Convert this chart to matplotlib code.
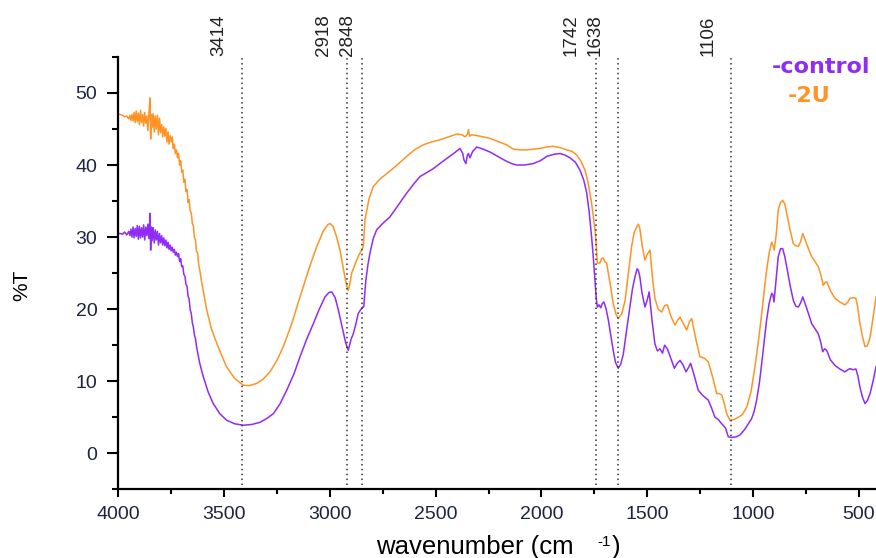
import numpy as np
import matplotlib.pyplot as plt
from matplotlib.ticker import MultipleLocator

#########################
#
# FTIR spectra
#
#########################

# wavenumber (cm-1) and %T for the control sample
wn_ctrl = [4000, 3990, 3980, 3970, 3960, 3950, 3945, 3940, 3935, 3930, 3925, 3920,
           3915, 3910, 3905, 3900, 3895, 3890, 3885, 3880, 3875, 3870, 3865, 3860,
           3855, 3850, 3847, 3843, 3840, 3835, 3830, 3825, 3820, 3815, 3810, 3805,
           3800, 3795, 3790, 3785, 3780, 3775, 3770, 3765, 3760, 3755, 3750, 3745,
           3740, 3735, 3730, 3725, 3720, 3715, 3710, 3705, 3700, 3695, 3690, 3685,
           3680, 3675, 3670, 3665, 3660, 3655, 3650, 3645, 3640, 3635, 3630, 3615,
           3598, 3575, 3551, 3520, 3488, 3450, 3409, 3370, 3330,
           3300, 3267, 3235, 3204, 3170, 3141, 3110, 3078, 3050, 3023, 3005, 2991,
           2975, 2960, 2940, 2925, 2913, 2900, 2889, 2875, 2866, 2855, 2845, 2840,
           2830, 2820, 2811, 2795, 2779, 2750, 2716, 2680, 2637, 2600, 2574, 2540,
           2511, 2480, 2448, 2415, 2385, 2372, 2366, 2357, 2350, 2345, 2338, 2325,
           2306, 2275, 2243, 2200, 2164, 2140, 2117, 2080, 2039, 2005, 1975, 1940,
           1912, 1890, 1865, 1840, 1818, 1800, 1786, 1775, 1763, 1755, 1747, 1741,
           1736, 1728, 1720, 1712, 1705, 1695, 1684, 1672, 1661, 1650, 1637, 1625,
           1613, 1600, 1582, 1570, 1558, 1548, 1542, 1535, 1525, 1511, 1500, 1491,
           1478, 1464, 1452, 1440, 1428, 1418, 1405, 1390, 1372, 1358, 1345, 1330,
           1317, 1305, 1295, 1280, 1259, 1240, 1225, 1212, 1195, 1180, 1165, 1148,
           1130, 1117, 1100, 1078, 1060, 1040, 1020, 1007, 995, 983, 970, 959,
           948, 936, 924, 912, 906, 901, 893, 881, 870, 860, 850, 841,
           825, 810, 798, 786, 775, 765, 745, 723, 705, 692, 680, 671,
           662, 652, 635, 613, 590, 566, 552, 542, 528, 514, 505, 495,
           483, 471, 460, 447, 433, 419]
t_ctrl = [30.5, 30.5, 30.4, 30.7, 30.3, 30.8, 30.2, 31.1, 30.0, 31.4, 29.9, 31.2,
          30.1, 31.6, 29.7, 31.5, 29.9, 31.3, 30.0, 31.7, 29.6, 31.4, 30.2, 31.8,
          29.8, 33.3, 28.2, 31.4, 29.5, 31.3, 29.2, 31.0, 29.6, 30.8, 28.9, 30.5,
          29.2, 30.2, 28.9, 29.9, 28.8, 29.6, 28.5, 29.3, 28.3, 28.9, 28.1, 28.6,
          27.9, 28.3, 27.5, 27.9, 27.3, 27.7, 26.6, 27.0, 25.9, 26.0, 24.8, 24.6,
          23.4, 23.2, 21.8, 21.4, 19.9, 19.4, 18.1, 17.5, 16.4, 15.9, 14.8, 12.5,
          10.6, 8.5, 6.9, 5.5, 4.6, 4.1, 3.9, 4.0, 4.3,
          4.8, 5.5, 6.9, 8.75, 11.0, 13.4, 15.8, 18.0, 20.0, 21.7, 22.3, 22.4,
          21.6, 19.9, 17.3, 15.3, 14.3, 15.8, 16.6, 18.2, 19.4, 19.9, 20.3, 20.3,
          24.0, 26.2, 27.7, 29.8, 31.0, 31.9, 32.8, 34.3, 36.1, 37.5, 38.4, 39.0,
          39.5, 40.2, 40.9, 41.6, 42.3, 41.6, 40.7, 40.2, 41.4, 41.6, 41.0, 41.9,
          42.5, 42.2, 41.8, 41.1, 40.5, 40.2, 40.0, 40.0, 40.2, 40.6, 41.2, 41.5,
          41.6, 41.4, 41.0, 40.4, 39.3, 37.9, 36.1, 33.6, 30.0, 27.2, 24.0, 21.5,
          20.3, 20.6, 20.2, 20.8, 21.0, 20.1, 18.5, 16.3, 14.3, 12.6, 11.8, 12.4,
          13.8, 16.6, 20.3, 22.8, 24.5, 25.6, 25.4, 24.5, 22.3, 20.3, 21.3, 22.4,
          18.6, 15.2, 14.2, 14.5, 13.9, 15.0, 14.5, 13.3, 11.8, 12.5, 12.9, 12.2,
          11.3, 11.9, 12.5, 11.0, 8.75, 8.1, 7.7, 7.4, 6.2, 5.0, 4.7, 4.1,
          3.5, 2.3, 2.2, 2.3, 2.6, 3.3, 4.2, 4.8, 5.8, 7.4, 9.8, 12.5,
          15.4, 18.5, 20.8, 22.2, 22.0, 21.0, 23.5, 27.3, 28.4, 28.4, 27.3, 25.9,
          23.3, 21.25, 20.4, 20.3, 20.9, 21.7, 20.0, 18.0, 17.2, 16.6, 15.4, 14.1,
          14.5, 14.3, 13.0, 12.2, 11.7, 11.3, 11.6, 11.75, 11.6, 11.7, 10.8, 9.2,
          7.8, 6.9, 7.3, 8.3, 10.0, 12.0]

# wavenumber (cm-1) and %T for the 2U sample
wn_2u = [4000, 3990, 3980, 3970, 3960, 3950, 3945, 3940, 3935, 3930, 3925, 3920,
         3915, 3910, 3905, 3900, 3895, 3890, 3885, 3880, 3875, 3870, 3865, 3860,
         3855, 3850, 3847, 3843, 3840, 3835, 3830, 3825, 3820, 3815, 3810, 3805,
         3800, 3795, 3790, 3785, 3780, 3775, 3770, 3765, 3760, 3755, 3750, 3745,
         3740, 3735, 3730, 3725, 3720, 3715, 3710, 3705, 3700, 3695, 3690, 3685,
         3680, 3675, 3670, 3665, 3660, 3655, 3650, 3645, 3640, 3635, 3630, 3625,
         3620, 3614, 3605, 3598, 3582, 3560, 3535, 3510, 3488, 3450, 3409, 3380,
         3346, 3315, 3283, 3250, 3220, 3180, 3141, 3100, 3062, 3030, 3010, 3000,
         2985, 2970, 2952, 2935, 2920, 2913, 2905, 2897, 2880, 2865, 2850, 2842,
         2834, 2815, 2795, 2765, 2732, 2690, 2637, 2600, 2559, 2520, 2480, 2440,
         2400, 2375, 2361, 2350, 2345, 2339, 2329, 2290, 2243, 2200, 2164, 2133,
         2100, 2070, 2040, 2007, 1975, 1944, 1910, 1881, 1855, 1834, 1815, 1794,
         1778, 1763, 1755, 1747, 1741, 1736, 1724, 1716, 1708, 1700, 1692, 1684,
         1672, 1661, 1648, 1637, 1620, 1605, 1590, 1574, 1562, 1550, 1542, 1535,
         1524, 1511, 1500, 1487, 1476, 1464, 1448, 1432, 1418, 1405, 1388, 1369,
         1356, 1345, 1330, 1314, 1300, 1290, 1270, 1251, 1230, 1212, 1190, 1172,
         1160, 1148, 1135, 1125, 1109, 1090, 1070, 1050, 1030, 1010, 991, 975,
         959, 946, 936, 924, 912, 906, 900, 890, 881, 870, 860, 850,
         841, 825, 810, 798, 786, 775, 765, 745, 723, 705, 692, 680,
         668, 660, 652, 635, 613, 590, 566, 552, 542, 528, 514, 505,
         495, 483, 471, 460, 447, 433, 419]
t_2u = [47.1, 47.0, 46.9, 46.7, 46.8, 46.4, 46.9, 46.2, 47.0, 46.1, 47.3, 45.9,
        47.5, 46.0, 47.2, 45.6, 47.6, 45.9, 47.0, 45.4, 47.3, 45.8, 46.8, 44.8,
        47.2, 49.3, 43.6, 47.0, 45.2, 47.1, 44.6, 46.8, 45.0, 46.9, 44.2, 46.5,
        44.5, 45.6, 43.9, 45.3, 44.0, 45.1, 43.2, 44.6, 42.9, 44.1, 43.2, 43.9,
        42.3, 42.9, 41.6, 42.1, 41.0, 41.6, 40.0, 40.6, 39.0, 39.3, 37.6, 38.0,
        36.3, 36.6, 34.8, 35.2, 33.6, 33.4, 31.9, 31.6, 29.9, 29.6, 28.0, 27.8,
        26.2, 25.3, 23.6, 22.5, 19.9, 17.3, 15.3, 13.5, 12.0, 10.4, 9.44, 9.4,
        9.7, 10.3, 11.3, 12.9, 14.8, 18.0, 21.7, 25.5, 28.7, 30.9, 31.7, 31.9,
        31.5, 30.2, 28.2, 25.4, 23.2, 22.6, 23.6, 25.0, 26.3, 27.4, 28.2, 28.7,
        32.4, 35.3, 37.0, 38.0, 38.8, 39.8, 41.2, 42.1, 42.8, 43.2, 43.5, 43.9,
        44.3, 44.2, 43.9, 44.3, 44.9, 44.0, 44.2, 44.0, 43.7, 43.2, 42.8, 42.2,
        42.1, 42.1, 42.2, 42.3, 42.5, 42.6, 42.4, 42.1, 41.9, 41.4, 40.6, 39.3,
        37.3, 34.7, 32.8, 31.0, 29.0, 26.4, 26.4, 27.0, 27.1, 26.6, 26.4, 25.0,
        22.9, 20.8, 19.3, 18.7, 19.4, 21.2, 24.8, 28.7, 30.6, 31.4, 31.8, 31.2,
        28.8, 26.8, 27.6, 28.2, 24.5, 21.5, 20.0, 19.6, 20.5, 20.6, 19.0, 17.8,
        18.5, 18.9, 18.0, 17.1, 18.3, 18.7, 15.8, 13.4, 13.2, 12.7, 10.5, 8.3,
        8.3, 8.1, 6.8, 5.5, 4.6, 4.7, 5.0, 5.4, 6.4, 8.5, 12.0, 15.5,
        19.4, 22.9, 25.4, 27.8, 29.3, 28.9, 28.2, 30.5, 33.8, 34.8, 35.1, 34.6,
        33.3, 31.0, 29.1, 28.8, 28.7, 29.4, 30.5, 28.9, 27.3, 26.5, 25.9, 24.8,
        23.3, 23.7, 23.8, 22.6, 21.5, 21.0, 20.6, 21.0, 21.5, 21.6, 21.5, 20.2,
        18.0, 16.2, 14.8, 14.9, 16.1, 18.8, 21.7]

# marked band positions and the sideways shift (px) of their labels
peaks = [3414, 2918, 2848, 1742, 1638, 1106]
label_shift = [-23, -24, -15, -25, -23, -23]

x_ticks = [4000, 3500, 3000, 2500, 2000, 1500, 1000, 500]
y_ticks = [0, 10, 20, 30, 40, 50]

purple = '#8f2cf5'
orange = '#ff9326'

#########################
#
# Draw the figure
#
#########################

plt.rcParams['font.family'] = ['Liberation Sans', 'DejaVu Sans']

fig = plt.figure(figsize=(8.76, 5.58), dpi=100)
ax = fig.add_axes([0.135, 0.123, 0.865, 0.775])

ax.plot(wn_2u, t_2u, color=orange, lw=1.1)
ax.plot(wn_ctrl, t_ctrl, color=purple, lw=1.1)

# dotted marker lines with rotated labels above the frame
for p, dx in zip(peaks, label_shift):
    ax.axvline(p, ymin=0.01, ymax=1.0, color='#333333', ls=(0, (1, 2.2)), lw=1.1)
    ax.annotate(str(p), xy=(p, 1.0), xycoords=('data', 'axes fraction'),
                xytext=(dx * 0.72, 1), textcoords='offset points',
                rotation=90, ha='center', va='bottom', fontsize=13.5,
                color='#222222')

ax.set_xlim(4000, 419)
ax.set_ylim(-5, 55)
ax.set_xticks(x_ticks)
ax.set_yticks(y_ticks)
ax.xaxis.set_minor_locator(MultipleLocator(250))
ax.yaxis.set_minor_locator(MultipleLocator(5))

for side in ['top', 'right']:
    ax.spines[side].set_visible(False)
for side in ['left', 'bottom']:
    ax.spines[side].set_linewidth(1.6)

ax.tick_params(axis='y', which='major', length=8, width=1.5, pad=7,
               labelsize=14, labelcolor='#1c2540')
ax.tick_params(axis='y', which='minor', length=4, width=1.5)
ax.tick_params(axis='x', which='major', length=6, width=1.5, pad=6,
               labelsize=14, labelcolor='#1c2540')
ax.tick_params(axis='x', which='minor', length=3.5, width=1.5)

# axis titles
fig.text(22 / 876, 1 - 285 / 558, '%T', rotation=90, fontsize=15,
         ha='center', va='center')
fig.text(376 / 876, 4 / 558, 'wavenumber (cm', fontsize=18.5,
         ha='left', va='baseline')
fig.text(597 / 876, 12 / 558, '-1', fontsize=11, ha='left', va='baseline')
fig.text(612 / 876, 4 / 558, ')', fontsize=18.5, ha='left', va='baseline')

# legend written as coloured text
fig.text(772 / 876, 1 - 72.7 / 558, '-control', color=purple, fontsize=16,
         fontweight='bold', family='DejaVu Sans', ha='left', va='baseline')
fig.text(788 / 876, 1 - 101.7 / 558, '-2U', color=orange, fontsize=16,
         fontweight='bold', family='DejaVu Sans', ha='left', va='baseline')

fig.savefig('out.png', dpi=100)
